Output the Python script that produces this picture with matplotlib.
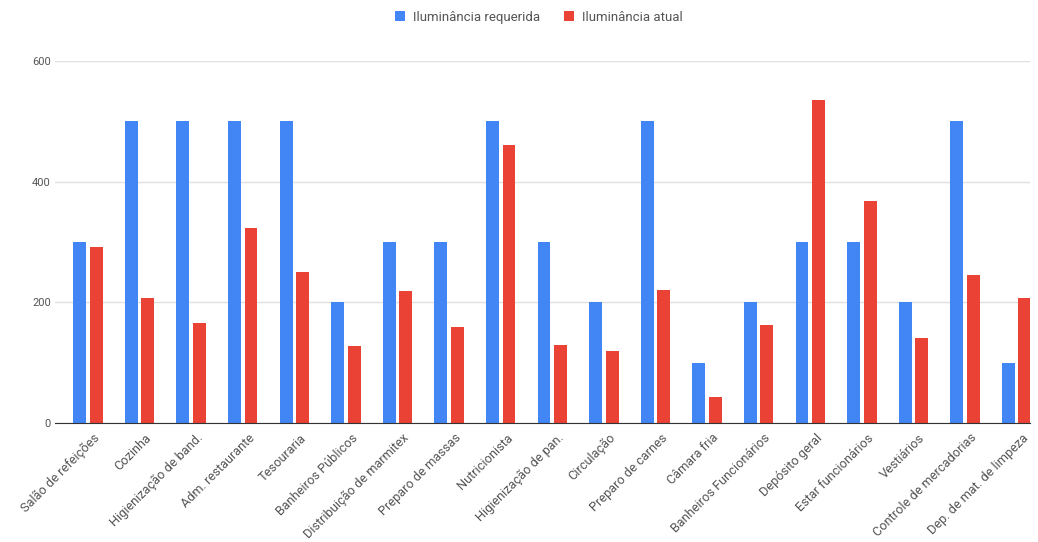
import numpy as np
import matplotlib.pyplot as plt

categorias = ['Salão de refeições', 'Cozinha', 'Higienização de band.', 'Adm. restaurante',
              'Tesouraria', 'Banheiros Públicos', 'Distribuição de marmitex', 'Preparo de massas',
              'Nutricionista', 'Higienização de pan.', 'Circulação', 'Preparo de carnes',
              'Câmara fria', 'Banheiros Funcionários', 'Depósito geral', 'Estar funcionários',
              'Vestiários', 'Controle de mercadorias', 'Dep. de mat. de limpeza']
requerida = [300, 500, 500, 500, 500, 200, 300, 300, 500, 300, 200, 500, 100, 200, 300, 300, 200, 500, 100]
atual = [292, 207, 165, 324, 250, 127, 218, 159, 460, 130, 120, 220, 43, 162, 536, 368, 141, 245, 208]

plt.rcParams['font.family'] = ['Roboto', 'DejaVu Sans']

fig = plt.figure(figsize=(10.38, 5.42), dpi=100)
ax = fig.add_axes([55 / 1038, 119 / 542, 975 / 1038, 362 / 542])

x = np.arange(len(categorias))
w = 0.25
ax.bar(x - 0.16, requerida, w, color='#4285F4', label='Iluminância requerida', zorder=3)
ax.bar(x + 0.16, atual, w, color='#EA4335', label='Iluminância atual', zorder=3)

ax.set_xlim(-0.64, 18.26)
ax.set_ylim(0, 600)
ax.set_yticks([0, 200, 400, 600])
ax.grid(axis='y', color='#e0e0e0', linewidth=1, zorder=0)
for s in ['top', 'right', 'left']:
    ax.spines[s].set_visible(False)
ax.spines['bottom'].set_color('#333333')
ax.spines['bottom'].set_zorder(4)
ax.tick_params(axis='both', length=0, labelsize=8, labelcolor='#555555')
ax.tick_params(axis='y', pad=3)

ax.set_xticks(x + 0.1)
ax.set_xticklabels(categorias, rotation=45, ha='right', va='top', rotation_mode='anchor',
                   fontsize=9.2)
ax.tick_params(axis='x', pad=6)

fig.legend(loc='upper center', bbox_to_anchor=(0.519, 1.002), ncol=2, frameon=False,
           fontsize=9.5, handlelength=0.75, handleheight=0.75, handletextpad=0.6,
           columnspacing=1.8, labelcolor='#555555')

fig.savefig('out.png', dpi=100, facecolor='white')
